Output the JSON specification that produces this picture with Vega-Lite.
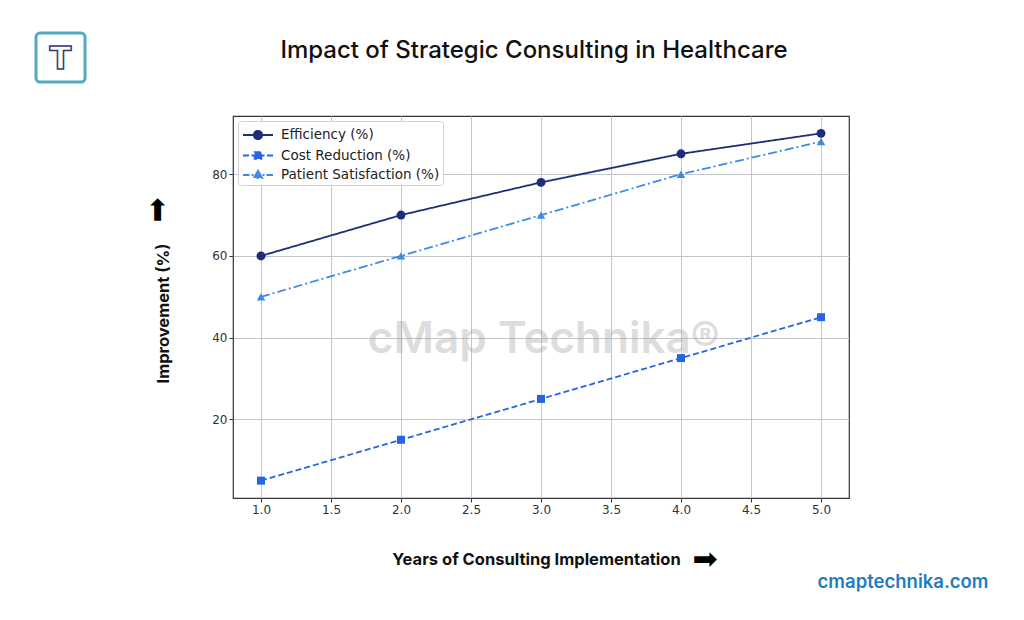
{
  "$schema": "https://vega.github.io/schema/vega-lite/v6.json",
  "width": 616,
  "height": 382,
  "autosize": {"type": "none"},
  "padding": {"left": 233, "top": 116, "right": 175, "bottom": 122},
  "background": "white",
  "title": {
    "text": "Impact of Strategic Consulting in Healthcare",
    "font": "Inter",
    "fontSize": 24,
    "fontWeight": 500,
    "color": "#111111",
    "anchor": "middle",
    "frame": "group",
    "dx": -7,
    "offset": -31
  },
  "config": {
    "view": {"stroke": "#333333", "strokeWidth": 1.2},
    "axis": {
      "labelFont": "DejaVu Sans",
      "labelFontSize": 12,
      "labelColor": "#333333",
      "tickColor": "#333333",
      "tickSize": 4,
      "gridColor": "#c4c4cc",
      "gridWidth": 1,
      "domain": false,
      "titleFont": "Inter",
      "titleFontSize": 16.5,
      "titleFontWeight": "bold",
      "titleColor": "#111111"
    },
    "legend": {
      "labelFont": "DejaVu Sans",
      "labelFontSize": 13.5,
      "labelColor": "#222222"
    }
  },
  "datasets": {
    "series": [
      {"year": 1, "series": "Efficiency (%)", "value": 60},
      {"year": 2, "series": "Efficiency (%)", "value": 70},
      {"year": 3, "series": "Efficiency (%)", "value": 78},
      {"year": 4, "series": "Efficiency (%)", "value": 85},
      {"year": 5, "series": "Efficiency (%)", "value": 90},
      {"year": 1, "series": "Cost Reduction (%)", "value": 5},
      {"year": 2, "series": "Cost Reduction (%)", "value": 15},
      {"year": 3, "series": "Cost Reduction (%)", "value": 25},
      {"year": 4, "series": "Cost Reduction (%)", "value": 35},
      {"year": 5, "series": "Cost Reduction (%)", "value": 45},
      {"year": 1, "series": "Patient Satisfaction (%)", "value": 50},
      {"year": 2, "series": "Patient Satisfaction (%)", "value": 60},
      {"year": 3, "series": "Patient Satisfaction (%)", "value": 70},
      {"year": 4, "series": "Patient Satisfaction (%)", "value": 80},
      {"year": 5, "series": "Patient Satisfaction (%)", "value": 88}
    ]
  },
  "layer": [
    {
      "data": {"name": "series"},
      "mark": {"type": "line", "strokeWidth": 1.8},
      "encoding": {
        "x": {
          "field": "year", "type": "quantitative",
          "scale": {"domain": [0.8, 5.2], "nice": false, "zero": false},
          "axis": {
            "values": [1, 1.5, 2, 2.5, 3, 3.5, 4, 4.5, 5],
            "format": ".1f",
            "title": "Years of Consulting Implementation",
            "titlePadding": 36,
            "titleX": 303
          }
        },
        "y": {
          "field": "value", "type": "quantitative",
          "scale": {"domain": [0.75, 94.25], "nice": false, "zero": false},
          "axis": {
            "values": [20, 40, 60, 80],
            "format": "d",
            "title": "Improvement (%)",
            "titlePadding": 40,
            "titleY": 197
          }
        },
        "color": {
          "field": "series", "type": "nominal",
          "scale": {
            "domain": ["Efficiency (%)", "Cost Reduction (%)", "Patient Satisfaction (%)"],
            "range": ["#1e2c7c", "#2766e2", "#3f8ae9"]
          },
          "legend": {
            "title": null,
            "orient": "top-left",
            "offset": 5,
            "fillColor": "white",
            "strokeColor": "#d0d0d0",
            "cornerRadius": 3,
            "padding": 3,
            "rowPadding": 1.5,
            "symbolSize": 400,
            "symbolStrokeWidth": 1.8,
            "symbolOffset": 6,
            "labelOffset": 12,
            "encode": {
              "symbols": {
                "update": {
                  "fill": {"scale": "color", "field": "value"},
                  "stroke": {"scale": "color", "field": "value"},
                  "strokeDash": {"value": [1, 0]},
                  "opacity": {"value": 1}
                }
              }
            }
          }
        },
        "strokeDash": {
          "field": "series", "type": "nominal",
          "scale": {
            "domain": ["Efficiency (%)", "Cost Reduction (%)", "Patient Satisfaction (%)"],
            "range": [[1, 0], [6, 3], [9, 3, 2, 3]]
          },
          "legend": null
        }
      }
    },
    {
      "data": {"name": "series"},
      "mark": {"type": "point", "filled": true, "size": 60, "opacity": 0},
      "encoding": {
        "x": {"field": "year", "type": "quantitative"},
        "y": {"field": "value", "type": "quantitative"},
        "color": {"field": "series", "type": "nominal"},
        "shape": {
          "field": "series", "type": "nominal",
          "scale": {
            "domain": ["Efficiency (%)", "Cost Reduction (%)", "Patient Satisfaction (%)"],
            "range": [
              "M-1.5,0H1.5M-0.42,0A0.42,0.42 0 1,0 0.42,0A0.42,0.42 0 1,0 -0.42,0Z",
              "M-1.5,0H-0.9M-0.65,0H-0.3M0.3,0H0.65M0.9,0H1.5M-0.34,-0.34H0.34V0.34H-0.34Z",
              "M-1.5,0H-0.85M-0.65,0H-0.45M0.45,0H0.65M0.85,0H1.5M0,-0.44L0.42,0.3H-0.42Z"
            ]
          },
          "legend": {"title": null}
        }
      }
    },
    {
      "data": {"name": "series"},
      "transform": [{"filter": "datum.series === 'Efficiency (%)'"}],
      "mark": {"type": "point", "filled": true, "size": 80, "opacity": 1, "shape": "circle"},
      "encoding": {
        "x": {"field": "year", "type": "quantitative"},
        "y": {"field": "value", "type": "quantitative"},
        "color": {"field": "series", "type": "nominal"}
      }
    },
    {
      "data": {"name": "series"},
      "transform": [{"filter": "datum.series === 'Cost Reduction (%)'"}],
      "mark": {"type": "point", "filled": true, "size": 64, "opacity": 1, "shape": "square"},
      "encoding": {
        "x": {"field": "year", "type": "quantitative"},
        "y": {"field": "value", "type": "quantitative"},
        "color": {"field": "series", "type": "nominal"}
      }
    },
    {
      "data": {"name": "series"},
      "transform": [{"filter": "datum.series === 'Patient Satisfaction (%)'"}],
      "mark": {"type": "point", "filled": true, "size": 72, "opacity": 1, "shape": "triangle-up"},
      "encoding": {
        "x": {"field": "year", "type": "quantitative"},
        "y": {"field": "value", "type": "quantitative"},
        "color": {"field": "series", "type": "nominal"}
      }
    },
    {
      "data": {"values": [{"label": "cMap Technika®"}]},
      "mark": {"type": "text", "font": "Inter", "fontSize": 44, "fontWeight": 600, "color": "#9a9a9a", "opacity": 0.33, "align": "center", "baseline": "middle"},
      "encoding": {
        "x": {"datum": 3.02},
        "y": {"datum": 39.5},
        "text": {"field": "label"}
      }
    },
    {
      "data": {"values": [{"label": "cmaptechnika.com"}]},
      "mark": {"type": "text", "font": "Inter", "fontSize": 18.5, "fontWeight": 600, "color": "#1f7cc0", "align": "center", "baseline": "middle"},
      "encoding": {
        "x": {"datum": 5.586},
        "y": {"datum": -19.8},
        "text": {"field": "label"}
      }
    },
    {
      "data": {"values": [{"label": "➡", "x": 4.171, "y": -14.43, "angle": 0}, {"label": "➡", "x": 0.264, "y": 71.24, "angle": 270}]},
      "mark": {"type": "text", "font": "DejaVu Sans", "fontSize": 30, "color": "#000000", "align": "center", "baseline": "middle"},
      "encoding": {
        "x": {"field": "x", "type": "quantitative"},
        "y": {"field": "y", "type": "quantitative"},
        "angle": {"field": "angle", "type": "quantitative", "scale": null},
        "text": {"field": "label"}
      }
    },
    {
      "data": {"values": [{"x": -0.607, "x2": -0.257, "y": 102.57, "y2": 114.56}]},
      "mark": {"type": "rect", "fill": "white", "stroke": "#52a9c2", "strokeWidth": 3, "cornerRadius": 4},
      "encoding": {
        "x": {"field": "x", "type": "quantitative"},
        "x2": {"field": "x2"},
        "y": {"field": "y", "type": "quantitative"},
        "y2": {"field": "y2"}
      }
    },
    {
      "data": {"values": [{"label": "T"}]},
      "mark": {"type": "text", "font": "DejaVu Sans", "fontSize": 32, "fontWeight": "bold", "fill": "white", "stroke": "#2e3a78", "strokeWidth": 1.5, "align": "center", "baseline": "middle"},
      "encoding": {
        "x": {"datum": -0.432},
        "y": {"datum": 108.3},
        "text": {"field": "label"}
      }
    }
  ]
}
